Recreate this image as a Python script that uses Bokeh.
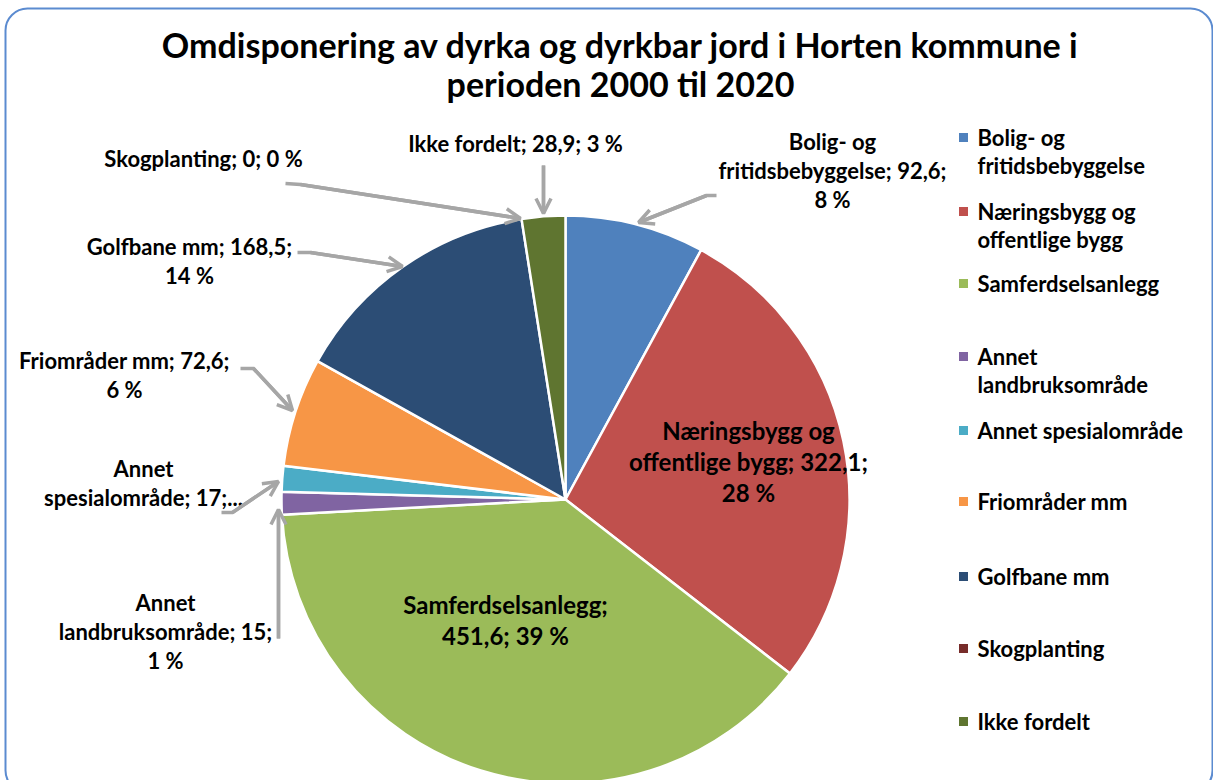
from bokeh.plotting import figure
from bokeh.models import Range1d, Arrow, OpenHead, BoxAnnotation
from bokeh.core.properties import value
from bokeh.embed import file_html
from bokeh.resources import INLINE
import math

# ---------------- data ----------------
categories = [
    "Bolig- og fritidsbebyggelse",
    "Næringsbygg og offentlige bygg",
    "Samferdselsanlegg",
    "Annet landbruksområde",
    "Annet spesialområde",
    "Friområder mm",
    "Golfbane mm",
    "Skogplanting",
    "Ikke fordelt",
]
values = [92.6, 322.1, 451.6, 15, 17, 72.6, 168.5, 0, 28.9]
percent_labels = [8, 28, 39, 1, 1, 6, 14, 0, 3]
colors = ["#4F81BD", "#C0504D", "#9BBB59", "#8064A2", "#4BACC6",
          "#F79646", "#2C4D75", "#772C2A", "#5F7530"]
legend_labels = [
    "Bolig- og\nfritidsbebyggelse",
    "Næringsbygg og\noffentlige bygg",
    "Samferdselsanlegg",
    "Annet\nlandbruksområde",
    "Annet spesialområde",
    "Friområder mm",
    "Golfbane mm",
    "Skogplanting",
    "Ikke fordelt",
]
label_templates = [
    "Bolig- og\nfritidsbebyggelse; {v};\n{p} %",
    "Næringsbygg og\noffentlige bygg; {v};\n{p} %",
    "Samferdselsanlegg;\n{v}; {p} %",
    "Annet\nlandbruksområde; {v};\n{p} %",
    "Annet\nspesialområde; {v};...",
    "Friområder mm; {v};\n{p} %",
    "Golfbane mm; {v};\n{p} %",
    "Skogplanting; {v}; {p} %",
    "Ikke fordelt; {v}; {p} %",
]
title_lines = ["Omdisponering av dyrka og dyrkbar jord i Horten kommune i",
               "perioden 2000 til 2020"]

# ---------------- layout ----------------
W, H = 1213, 780
PY = lambda py: 780 - py  # pixel row -> data y

FONT = "Lato"
GRAY = "#A6A6A6"

p = figure(width=W, height=H, x_range=Range1d(0, W), y_range=Range1d(0, H),
           output_backend="svg", toolbar_location=None, min_border=0)
p.axis.visible = False
p.grid.visible = False
p.outline_line_color = None
p.background_fill_color = "white"

# rounded border
p.add_layout(BoxAnnotation(left=5, right=1212, top=PY(8), bottom=PY(792),
                           fill_alpha=0, line_color="#5B8BD0", line_alpha=1.0,
                           line_width=2, border_radius=22))

# pie
cx, cy, r = 565, PY(499), 284
total = sum(values)
starts, ends, wcols = [], [], []
cum = 0.0
for v, c in zip(values, colors):
    a0 = math.pi / 2 - 2 * math.pi * cum / total
    cum += v
    a1 = math.pi / 2 - 2 * math.pi * cum / total
    if v > 0:
        starts.append(a0)
        ends.append(a1)
        wcols.append(c)
p.wedge(x=cx, y=cy, radius=r, start_angle=starts, end_angle=ends,
        direction="clock", fill_color=wcols, line_color="white", line_width=2.5)

def fmt(v):
    s = f"{v:g}"
    return s.replace(".", ",")

labels = [t.format(v=fmt(v), p=pc) for t, v, pc in zip(label_templates, values, percent_labels)]

# label anchors (center of first line) in pixel coords, and line spacing
label_pos = [(832, 141), (748, 430), (505, 604), (165, 602), (143, 468),
             (124, 360), (189, 246), (203, 158), (515, 143)]
label_size = ["22px", "24px", "24px", "22px", "22px", "22px", "22px", "22px", "22px"]
label_lh = [29, 31, 31, 29, 29, 29, 29, 29, 29]

for lab, (lx, ly), fs, lh in zip(labels, label_pos, label_size, label_lh):
    lines = lab.split("\n")
    xs = [lx] * len(lines)
    ys = [PY(ly + k * lh) for k in range(len(lines))]
    p.text(x=xs, y=ys, text=lines, text_align="center", text_baseline="middle",
           text_font=value(FONT), text_font_style="bold", text_font_size=fs,
           text_color="black")

# leader lines (pixel coords), last segment ends in arrow head
leaders = [
    [(716, 195), (706, 195), (638, 222)],                  # Bolig
    [(543, 165), (543, 213)],                              # Ikke fordelt
    [(285, 183), (300, 184), (520, 218)],                  # Skogplanting
    [(297, 252), (310, 252), (402, 266)],                  # Golfbane
    [(240, 368), (253, 368), (292, 410)],                  # Friområder
    [(221, 512), (232, 512), (278, 481)],                  # Annet spesial
    [(278, 638), (278, 509)],                              # Annet landbruk
]
for pts in leaders:
    xs = [q[0] for q in pts]
    ys = [PY(q[1]) for q in pts]
    p.line(xs, ys, line_color=GRAY, line_width=3.5, line_join="miter")
    p.add_layout(Arrow(x_start=xs[-2], y_start=ys[-2], x_end=xs[-1], y_end=ys[-1],
                       line_color=GRAY, line_width=3.5,
                       end=OpenHead(size=15, line_color=GRAY, line_width=3.5)))

# legend
leg_y = [137, 211, 283, 356, 430, 501, 576, 648, 721]
for lab, col, ly in zip(legend_labels, colors, leg_y):
    p.rect(x=963, y=PY(ly), width=9, height=9, fill_color=col, line_color=None)
    lines = lab.split("\n")
    p.text(x=[977] * len(lines), y=[PY(ly + k * 28) for k in range(len(lines))],
           text=lines, text_align="left", text_baseline="middle",
           text_font=value(FONT), text_font_style="bold", text_font_size="22px",
           text_color="black")

# title
p.text(x=[620, 620], y=[PY(44), PY(83)], text=title_lines, text_align="center",
       text_baseline="middle", text_font=value(FONT), text_font_style="bold",
       text_font_size="34px", text_color="black")

open("out.html", "w").write(file_html(p, INLINE))
